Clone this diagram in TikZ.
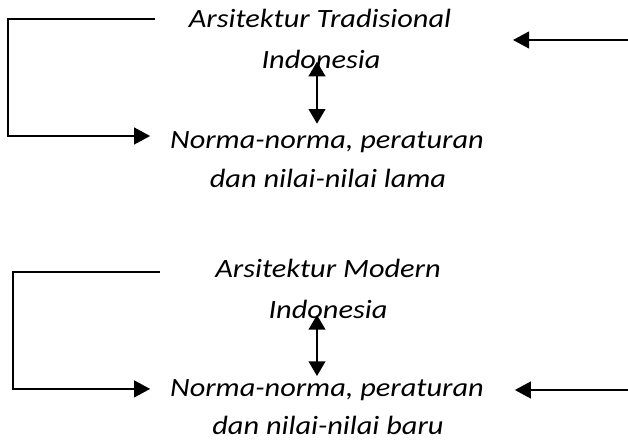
\documentclass[tikz,border=0pt]{standalone}
\usepackage{fontspec}
\setmainfont{Carlito}[FakeStretch=1.15]
\usetikzlibrary{arrows.meta,positioning}
\begin{document}
\begin{tikzpicture}[x=0.75pt,y=-0.75pt,line width=1.5pt,
    every node/.style={font=\itshape\fontsize{19.8}{24}\selectfont,inner sep=0pt},
    tip/.style={-{Triangle[length=12pt,width=12.5pt]}},
    tips/.style={{Triangle[length=11pt,width=12.5pt]}-{Triangle[length=11pt,width=12.5pt]}}]
\useasboundingbox (0,0) rectangle (628,441);
% upper group
\node(a) at (320,18.5){Arsitektur Tradisional};
\node(b) at (321,59){Indonesia};
\node(c) at (327,142){Norma-norma, peraturan};
\node(d) at (328,178){dan nilai-nilai lama};
% lower group
\node(e) at (328,268.5){Arsitektur Modern};
\node(f) at (328,309){Indonesia};
\node(g) at (327,390){Norma-norma, peraturan};
\node(h) at (328,425.5){dan nilai-nilai baru};
\coordinate(p) at (155,19);
\coordinate(q) at (628,40);
\coordinate(r) at (513,40);
\coordinate(s) at (160,272);
\coordinate(t) at (628,390);
\coordinate(l) at (8,0);
\coordinate(k) at (13,0);
\coordinate(m) at (317,0);
\coordinate(cw) at ([shift={(-14.25pt,4.5pt)}]c.west);
\coordinate(gw) at ([shift={(-14.25pt,0.8pt)}]g.west);
\draw[tip] (p) -| (l |- cw) -- (cw);
\draw[tip] (q) -- (r);
\draw[tips,shorten <=2pt,shorten >=5pt] (b.center -| m) -- (c.north -| m);
\draw[tip] (s) -| (k |- gw) -- (gw);
\draw[tip] (t) -- ([xshift=22.5pt]g.east |- t);
\draw[tips,shorten <=4.5pt,shorten >=1.8pt] (f.center -| m) -- (g.north -| m);
\end{tikzpicture}
\end{document}
